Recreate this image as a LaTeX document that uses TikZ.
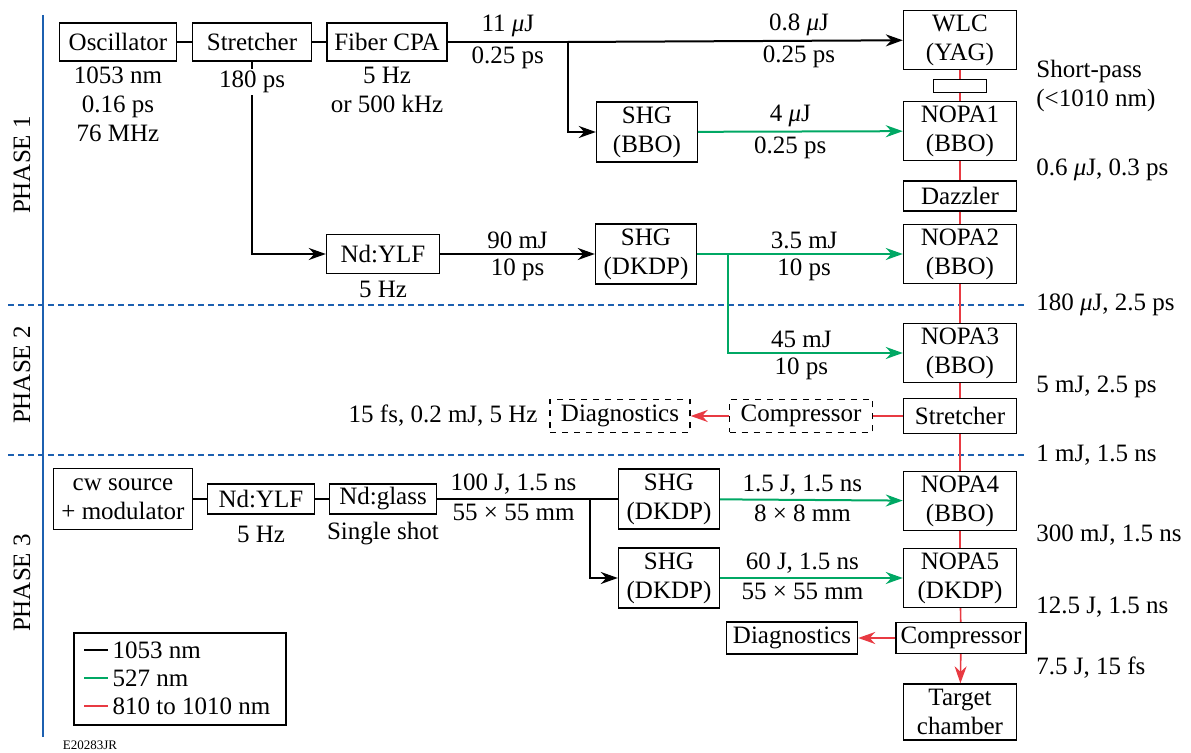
\documentclass[tikz,border=0pt]{standalone}
\usepackage{fontspec}
\setmainfont{Liberation Serif}
\usetikzlibrary{arrows.meta}
\definecolor{beamgreen}{RGB}{0,168,100}
\definecolor{beamred}{RGB}{232,58,66}
\definecolor{phaseblue}{RGB}{28,96,176}
\newcommand{\uJ}{{\itshape μ}J}

\begin{document}
\begin{tikzpicture}[x=0.5pt, y=-0.5pt, >={Stealth[length=8.5pt,width=6pt]},
    font=\fontsize{12.5}{14.5}\selectfont,
    box/.style={draw, line width=0.7pt, align=center, inner sep=1pt},
    nopa/.style={box, minimum width=56.5pt, minimum height=29.5pt},
    shg/.style={box, minimum width=50.5pt, minimum height=30pt},
    dbox/.style={box, dashed, minimum height=16.5pt},
    ir/.style={line width=1pt},
    gr/.style={beamgreen, line width=1pt},
    rd/.style={beamred, line width=0.8pt},
    phase/.style={phaseblue, line width=0.8pt, dash pattern=on 3pt off 2pt},
    lbl/.style={inner sep=2pt, text=black}]

  \useasboundingbox (0,0) rectangle (1191,753);

  \draw[phaseblue, line width=1pt] (43,15) -- (43,737);
  \draw[phase] (8,305) -- (1025,305);
  \draw[phase] (8,455) -- (1025,455);
  \node[rotate=90] (ph1) at (22,165) {PHASE 1};
  \node[rotate=90] (ph2) at (22,375) {PHASE 2};
  \node[rotate=90] (ph3) at (22,583) {PHASE 3};

  \node[box, minimum width=58.5pt, minimum height=19pt] (osc) at (118,42) {Oscillator};
  \node[box, minimum width=59.5pt, minimum height=19pt] (str) at (252,42) {Stretcher};
  \node[box, minimum width=60pt, minimum height=19pt] (cpa) at (387,42) {Fiber CPA};
  \node[nopa] (wlc) at (960,40) {WLC\\(YAG)};
  \node[box, minimum width=26.5pt, minimum height=6.5pt] (filt) at (960,86) {};
  \node[nopa] (nopa1) at (960,131) {NOPA1\\(BBO)};
  \node[box, minimum width=56.5pt, minimum height=15pt] (dazz) at (960,196) {Dazzler};
  \node[nopa] (nopa2) at (960,254) {NOPA2\\(BBO)};
  \node[shg] (shgA) at (647,132) {SHG\\(BBO)};
  \node[box, minimum width=56.5pt, minimum height=19.5pt] (ylfA) at (383,254) {Nd:YLF};
  \node[shg] (shgB) at (646,254) {SHG\\(DKDP)};
  \node[nopa] (nopa3) at (960,353) {NOPA3\\(BBO)};
  \node[box, minimum width=56.5pt, minimum height=17.5pt] (str2) at (960,416) {Stretcher};
  \node[dbox, minimum width=71.5pt] (comp1) at (801,416) {Compressor};
  \node[dbox, minimum width=70pt] (diag1) at (620,416) {Diagnostics};

  \node[box, minimum width=69.5pt, minimum height=30.5pt] (cw) at (123,499) {cw source\\+ modulator};
  \node[box, minimum width=53.5pt, minimum height=15pt] (ylfB) at (261,499) {Nd:YLF};
  \node[box, minimum width=53.5pt, minimum height=15pt] (glass) at (383,499) {Nd:glass};
  \node[shg] (shgC) at (669,499) {SHG\\(DKDP)};
  \node[shg] (shgD) at (669,578) {SHG\\(DKDP)};
  \node[nopa] (nopa4) at (960,501) {NOPA4\\(BBO)};
  \node[nopa] (nopa5) at (960,578) {NOPA5\\(DKDP)};
  \node[box, minimum width=65pt, minimum height=15.5pt] (comp2) at (961,638) {Compressor};
  \node[box, minimum width=65.5pt, minimum height=16pt] (diag2) at (792,638) {Diagnostics};
  \node[nopa, minimum height=28pt] (tgt) at (960,712) {Target\\chamber};

  \coordinate (j1) at (568,42);
  \coordinate (j2) at (728,254);
  \coordinate (j3) at (590,499);

  \draw[line width=0.6pt] (osc) -- (str);
  \draw[line width=0.6pt] (str) -- (cpa);
  \draw[ir] (cpa) -- node[lbl, above] {11 \uJ} node[lbl, below] {0.25 ps} (j1);
  \draw[ir, ->] (j1) -- node[lbl, above, pos=0.69] {0.8 \uJ} node[lbl, below, pos=0.69] {0.25 ps} (wlc);
  \draw[ir, ->] (j1) |- (shgA);
  \draw[ir, ->] (str) |- (ylfA);
  \draw[ir, ->] (ylfA) -- node[lbl, above] {90 mJ} node[lbl, below] {10 ps} (shgB);
  \draw[gr, ->] (shgA) -- node[lbl, above, pos=0.45] {4 \uJ} node[lbl, below, pos=0.45] {0.25 ps} (nopa1);
  \draw[gr, ->] (shgB) -- node[lbl, above, pos=0.52] {3.5 mJ} node[lbl, below, pos=0.52] {10 ps} (nopa2);
  \draw[gr, ->] (j2) |- node[lbl, above, pos=0.71] {45 mJ} node[lbl, below, pos=0.71] {10 ps} (nopa3);

  \draw[line width=0.6pt] (cw) -- (ylfB);
  \draw[line width=0.6pt] (ylfB) -- (glass);
  \draw[ir] (glass) -- node[lbl, above] {100 J, 1.5 ns} node[lbl, below] {55 × 55 mm} (j3);
  \draw[ir] (j3) -- (shgC);
  \draw[ir, ->] (j3) |- (shgD);
  \draw[gr, ->] (shgC) -- node[lbl, above, pos=0.45] {1.5 J, 1.5 ns} node[lbl, below, pos=0.45] {8 × 8 mm} (nopa4);
  \draw[gr, ->] (shgD) -- node[lbl, above, pos=0.45] {60 J, 1.5 ns} node[lbl, below, pos=0.45] {55 × 55 mm} (nopa5);

  \draw[rd] (wlc) -- (filt);
  \draw[rd] (filt) -- (nopa1);
  \draw[rd] (nopa1) -- (dazz);
  \draw[rd] (dazz) -- (nopa2);
  \draw[rd] (nopa2) -- (nopa3);
  \draw[rd] (nopa3) -- (str2);
  \draw[rd] (str2) -- (comp1);
  \draw[rd, ->] (comp1) -- (diag1);
  \draw[rd] (str2) -- (nopa4);
  \draw[rd] (nopa4) -- (nopa5);
  \draw[rd] (nopa5) -- (comp2);
  \draw[rd, ->] (comp2) -- (diag2);
  \draw[rd, ->] (comp2) -- (tgt);

  \node[lbl, align=center] (oscinfo) at (118,104) {1053 nm\\0.16 ps\\76 MHz};
  \node[lbl, fill=white, inner sep=1pt] (strinfo) at (252,82) {180 ps};
  \node[lbl, align=center] (cpainfo) at (387,90) {5 Hz\\or 500 kHz};
  \node[lbl] (ylfAinfo) at (383,289) {5 Hz};
  \node[lbl] (ylfBinfo) at (261,534) {5 Hz};
  \node[lbl] (glassinfo) at (383,534) {Single shot};
  \node[lbl, anchor=east] (diag1info) at (542,416) {15 fs, 0.2 mJ, 5 Hz};

  \node[lbl, anchor=west, align=left] (filtinfo) at (1032,86) {Short-pass\\(<1010 nm)};
  \node[lbl, anchor=west] at (1032,170) {0.6 \uJ, 0.3 ps};
  \node[lbl, anchor=west] at (1032,305) {180 \uJ, 2.5 ps};
  \node[lbl, anchor=west] at (1032,387) {5 mJ, 2.5 ps};
  \node[lbl, anchor=west] at (1032,455) {1 mJ, 1.5 ns};
  \node[lbl, anchor=west] at (1032,535) {300 mJ, 1.5 ns};
  \node[lbl, anchor=west] at (1032,607) {12.5 J, 1.5 ns};
  \node[lbl, anchor=west] at (1032,668) {7.5 J, 15 fs};

  \node[box, minimum width=106pt, minimum height=46pt] (key) at (180,679) {};
  \draw[line width=0.7pt] (84,650) -- (108,650) node[lbl, right] {1053 nm};
  \draw[beamgreen, line width=0.7pt] (84,678) -- (108,678) node[lbl, right] {527 nm};
  \draw[beamred, line width=0.7pt] (84,706) -- (108,706) node[lbl, right] {810 to 1010 nm};

  \node[font=\fontsize{6.5}{7}\selectfont] (fig) at (90,745) {E20283JR};
\end{tikzpicture}
\end{document}
